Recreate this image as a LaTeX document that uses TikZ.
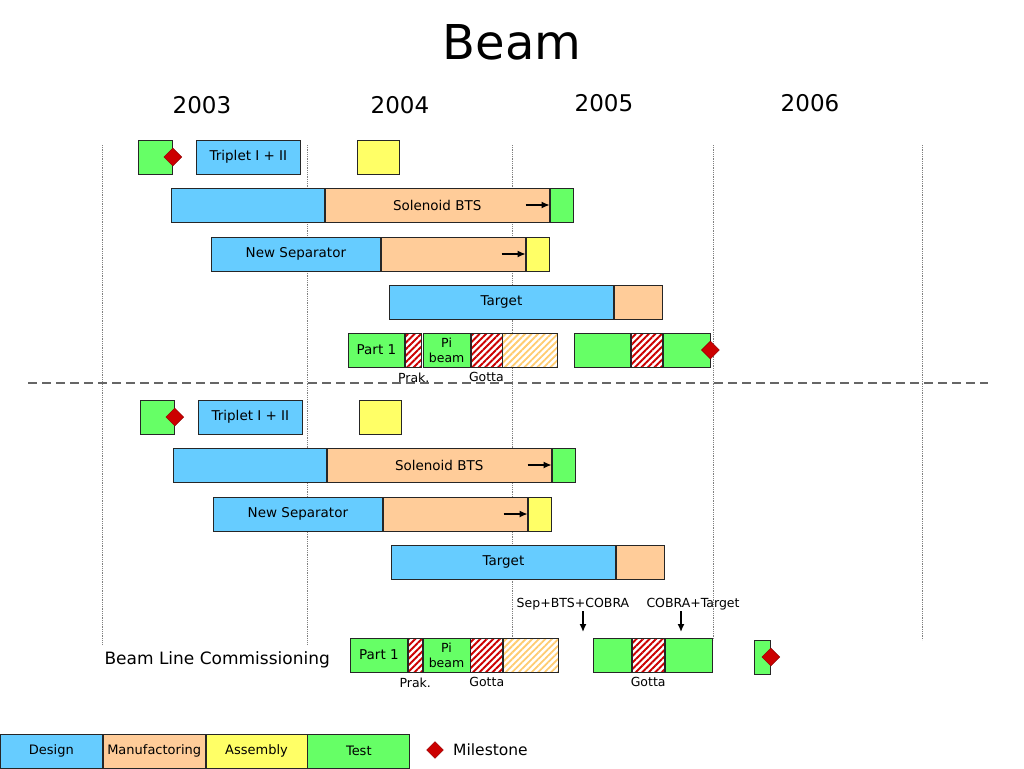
\documentclass[tikz,border=0pt]{standalone}
\usepackage{fontspec}
\setmainfont{DejaVu Sans}
\usetikzlibrary{positioning}
\usetikzlibrary{shapes.geometric,patterns.meta,arrows.meta}
\definecolor{designblue}{HTML}{66CCFF}
\definecolor{manuforange}{HTML}{FFCC99}
\definecolor{assemyellow}{HTML}{FFFF66}
\definecolor{testgreen}{HTML}{66FF66}
\definecolor{mred}{HTML}{CC0000}
\definecolor{litestripe}{HTML}{FFCC70}
\newcommand{\fsz}[1]{\fontsize{#1}{#1}\selectfont}

\begin{document}
\begin{tikzpicture}[x=1pt,y=-1pt,
	bar/.style={draw=black!85, line width=0.8pt, minimum height=34pt, inner sep=0pt, font=\fsz{13.5}},
	design/.style={bar, fill=designblue},
	manuf/.style={bar, fill=manuforange},
	assem/.style={bar, fill=assemyellow},
	testbar/.style={bar, fill=testgreen},
	stripes/.style={bar, preaction={fill=white}, pattern={Lines[angle=45,distance=4.6pt,line width=1.9pt]}, pattern color=#1},
	milestone/.style={diamond, draw=mred!70!black, fill=mred, minimum size=18pt, inner sep=0pt},
	lbl/.style={font=\fsz{12.5}, inner sep=1pt},
	pointer/.style={-{Latex[length=8pt,width=7pt]}, line width=1.4pt}
	]
	\useasboundingbox (0,0) rectangle (1024,768);
	\node[font=\fsz{48}] (title) at (512,42) {Beam};
	\foreach \yr/\x/\y in {2003/202/105,2004/400/105,2005/604/103,2006/810/103}
		\node[font=\fsz{23}] (y\yr) at (\x,\y) {\yr};
	\foreach \x/\e in {102/645,307/645,512/640,713/640,922/640}
		\draw[gray, densely dotted, line width=0.8pt] (\x,145) -- (\x,\e);
	\draw[gray!80!black, line width=1.3pt, dash pattern=on 9pt off 5pt] (28,383) -- (988,383);

	\foreach \dx/\dy/\s in {0/0/a,2/260/b}{
	\begin{scope}[shift={(\dx,\dy)}]
		\node[testbar, minimum width=34pt, anchor=west] (tst\s) at (138,157) {};
		\node[milestone] (ms\s) at (tst\s.east) {};
		\node[design, minimum width=104pt, anchor=west] (trip\s) at (196,157) {Triplet I + II};
		\node[assem, minimum width=42pt, anchor=west] (asm\s) at (357,157) {};
		\node[design, minimum width=153pt, anchor=west] (solD\s) at (171,205) {};
		\node[manuf, minimum width=224pt, right=0pt of solD\s] (solM\s) {Solenoid BTS};
		\node[testbar, minimum width=23pt, right=0pt of solM\s] (solT\s) {};
		\draw[pointer] ([xshift=-24pt]solM\s.east) -- (solM\s.east);
		\node[design, minimum width=169pt, anchor=west] (sepD\s) at (211,254) {New Separator};
		\node[manuf, minimum width=144pt, right=0pt of sepD\s] (sepM\s) {};
		\node[assem, minimum width=23pt, right=0pt of sepM\s] (sepA\s) {};
		\draw[pointer] ([xshift=-24pt]sepM\s.east) -- (sepM\s.east);
		\node[design, minimum width=224pt, anchor=west] (tgtD\s) at (389,302) {Target};
		\node[manuf, minimum width=48pt, right=0pt of tgtD\s] (tgtM\s) {};
	\end{scope}}

	\node[testbar, minimum width=56pt, anchor=west] (p1a) at (348,350) {Part 1};
	\node[stripes=mred, minimum width=16pt, right=0pt of p1a] (prka) {};
	\node[testbar, minimum width=47pt, right=0pt of prka, align=center, font=\fontsize{12.5}{15}\selectfont] (pia) {Pi\\beam};
	\node[stripes=mred, minimum width=31pt, right=0pt of pia] (gota) {};
	\node[stripes=litestripe, minimum width=55pt, right=0pt of gota] (resta) {};
	\node[lbl, below=4pt of prka] (prkla) {Prak.};
	\node[lbl, below=4pt of gota] (gotla) {Gotta};
	\node[testbar, minimum width=56pt, anchor=west] (r1a) at (574,350) {};
	\node[stripes=mred, minimum width=31pt, right=0pt of r1a] (r2a) {};
	\node[testbar, minimum width=47pt, right=0pt of r2a] (r3a) {};
	\node[milestone] (msr) at (r3a.east) {};

	\node[font=\fsz{17}, anchor=west] (blc) at (101,660) {Beam Line Commissioning};
	\node[testbar, minimum width=57pt, anchor=west] (p1b) at (350,655) {Part 1};
	\node[stripes=mred, minimum width=14pt, right=0pt of p1b] (prkb) {};
	\node[testbar, minimum width=47pt, right=0pt of prkb, align=center, font=\fontsize{12.5}{15}\selectfont] (pib) {Pi\\beam};
	\node[stripes=mred, minimum width=32pt, right=0pt of pib] (gotb) {};
	\node[stripes=litestripe, minimum width=55pt, right=0pt of gotb] (restb) {};
	\node[lbl, below=4pt of prkb] (prklb) {Prak.};
	\node[lbl, below=4pt of gotb] (gotlb) {Gotta};
	\node[testbar, minimum width=38pt, anchor=west] (r1b) at (593,655) {};
	\node[stripes=mred, minimum width=32pt, right=0pt of r1b] (r2b) {};
	\node[testbar, minimum width=47pt, right=0pt of r2b] (r3b) {};
	\node[lbl, below=4pt of r2b] (gotlc) {Gotta};
	\node[testbar, minimum width=16pt, anchor=west] (endb) at (754,657) {};
	\node[milestone] (msend) at (endb.east) {};
	\node[lbl] (sbc) at (573,604) {Sep+BTS+COBRA};
	\node[lbl] (ctg) at (693,604) {COBRA+Target};
	\coordinate (sbcTip) at (583,632);
	\coordinate (ctgTip) at (681,632);
	\draw[pointer] (sbc.south -| sbcTip) -- (sbcTip);
	\draw[pointer] (ctg.south -| ctgTip) -- (ctgTip);

	\node[design, minimum width=102pt, anchor=west, font=\fsz{13}] (legD) at (0,751) {Design};
	\node[manuf, minimum width=102pt, right=0pt of legD, font=\fsz{13}] (legM) {Manufactoring};
	\node[assem, minimum width=101pt, right=0pt of legM, font=\fsz{13}] (legA) {Assembly};
	\node[testbar, minimum width=102pt, right=0pt of legA, font=\fsz{13}] (legT) {Test};
	\node[milestone, minimum size=17pt] (legMs) at (435,750) {};
	\node[font=\fsz{15.5}, right=6pt of legMs] (legMsT) {Milestone};
\end{tikzpicture}
\end{document}
